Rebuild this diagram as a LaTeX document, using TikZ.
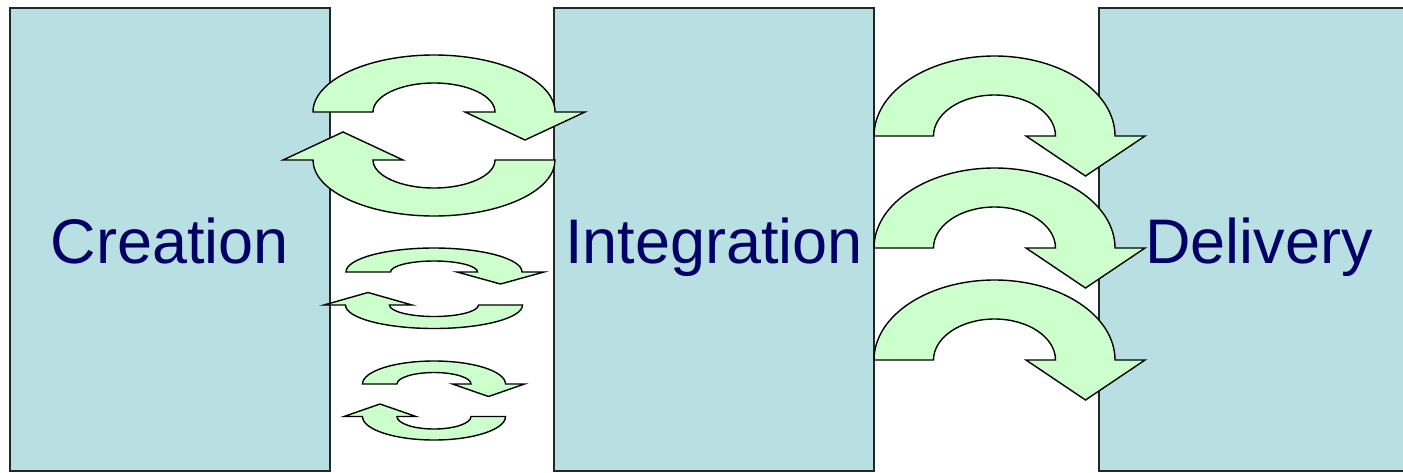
\documentclass[tikz,border=0pt]{standalone}
\usepackage{fontspec}
\setmainfont{Liberation Sans}
\definecolor{boxfill}{RGB}{184,223,226}
\definecolor{arrowfill}{RGB}{204,255,204}
\definecolor{labelblue}{RGB}{0,0,102}
\tikzset{
  stagebox/.style={draw=black!85, line width=1.8pt, fill=boxfill, inner sep=0pt, outer sep=0pt, anchor=north west},
  stagelabel/.style={text=labelblue, font=\fontsize{63}{75}\selectfont, anchor=base, inner sep=0pt},
  arrowshape/.style={draw=black, line width=1.4pt, fill=arrowfill, line join=miter},
}
% arrow arching over the top, pointing right-down
% #1 cx, #2 base y, #3 outer rx, #4 outer ry, #5 inner rx, #6 inner ry, #7 head centre x, #8 head half width, #9 head depth
\newcommand{\overarrow}[9]{%
  \path[arrowshape] ({#1-#3},#2) arc[start angle=180,end angle=360,x radius=#3,y radius=#4]
    -- ({#7+#8},#2) -- (#7,{#2+#9}) -- ({#7-#8},#2) -- ({#1+#5},#2)
    arc[start angle=360,end angle=180,x radius=#5,y radius=#6] -- cycle;}
% arrow arching under the bottom, pointing left-up
\newcommand{\underarrow}[9]{%
  \path[arrowshape] ({#1+#3},#2) arc[start angle=0,end angle=180,x radius=#3,y radius=#4]
    -- ({#7-#8},#2) -- (#7,{#2-#9}) -- ({#7+#8},#2) -- ({#1-#5},#2)
    arc[start angle=180,end angle=0,x radius=#5,y radius=#6] -- cycle;}
\begin{document}
\begin{tikzpicture}[x=1pt,y=-1pt]
\useasboundingbox (0,0) rectangle (1403,472);
\clip (0,0) rectangle (1403,472);
\fill[white] (0,0) rectangle (1403,472);
% stage boxes
\node[stagebox, minimum width=320pt, minimum height=463pt] (creation) at (10,8) {};
\node[stagebox, minimum width=320pt, minimum height=463pt] (integration) at (554,8) {};
\node[stagebox, minimum width=320pt, minimum height=463pt] (delivery) at (1099,8) {};
% big exchange loop
\overarrow{434}{112}{121}{57}{61}{29}{525}{60}{28}
\underarrow{434}{160}{121}{56}{61}{28}{343}{60}{28}
% small loop 1
\overarrow{434}{272}{88}{24}{43.5}{11}{500.5}{43.5}{12}
\underarrow{434}{305}{88.5}{23.5}{44.5}{11.5}{368}{44}{12.5}
% small loop 2
\overarrow{434}{384}{71.5}{23}{37}{11.5}{488.5}{36}{12.5}
\underarrow{434}{416.5}{71.5}{23.5}{37}{12.5}{380}{36}{12.5}
% delivery arrows
\overarrow{994.5}{136}{120.5}{80}{61}{41}{1085.5}{59.5}{40}
\overarrow{994.5}{248}{120.5}{80}{61}{41}{1085.5}{59.5}{40}
\overarrow{994.5}{360}{120.5}{80}{61}{41}{1085.5}{59.5}{40}
% labels
\node[stagelabel] (creationlabel) at (170,263) {Creation};
\node[stagelabel] (integrationlabel) at (714,263) {Integration};
\node[stagelabel] (deliverylabel) at (1259,263) {Delivery};
\end{tikzpicture}
\end{document}
